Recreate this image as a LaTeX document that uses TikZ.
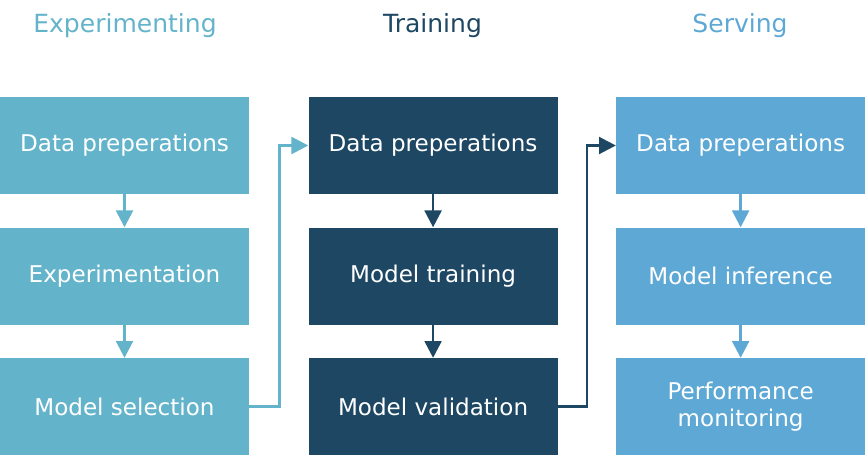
\documentclass[tikz,border=0pt]{standalone}
\usepackage{fontspec}
\setmainfont{DejaVu Sans}
\usetikzlibrary{arrows.meta, positioning}
\definecolor{cexp}{HTML}{63B4CB}
\definecolor{ctrain}{HTML}{1D4763}
\definecolor{cserve}{HTML}{5DA8D5}
\tikzset{
  stage/.style={
    fill=#1, draw=none, text=white, inner sep=0pt, align=center,
    minimum width=6.225cm, minimum height=2.425cm,
    font=\fontsize{16.4}{19.5}\selectfont
  },
  head/.style={text=#1, font=\fontsize{17.8}{22}\selectfont},
  flow/.style={draw=#1, line width=1.9pt, -{Triangle[length=4.2mm,width=4.2mm]}}
}
\begin{document}
\begin{tikzpicture}
  \useasboundingbox (0,0) rectangle (21.625,-11.4);
  % headings
  \node[head=cexp] (exphead) at (3.125,-0.65) {Experimenting};
  \node[head=ctrain] (trainhead) at (10.8125,-0.65) {Training};
  \node[head=cserve] (servehead) at (18.5,-0.65) {Serving};
  % experimenting
  \node[stage=cexp] (expdata) at (3.1125,-3.6375) {Data preperations};
  \node[stage=cexp,below=0.825cm of expdata] (expexp) {Experimentation};
  \node[stage=cexp,below=0.825cm of expexp] (expsel) {Model selection};
  % training
  \node[stage=ctrain,right=1.475cm of expdata] (traindata) {Data preperations};
  \node[stage=ctrain,below=0.825cm of traindata] (trainfit) {Model training};
  \node[stage=ctrain,below=0.825cm of trainfit] (trainval) {Model validation};
  % serving
  \node[stage=cserve,right=1.45cm of traindata] (servedata) {Data preperations};
  \node[stage=cserve,below=0.825cm of servedata] (serveinf) {Model inference};
  \node[stage=cserve,below=0.825cm of serveinf] (servemon) {Performance\\monitoring};

  \draw[flow=cexp] (expdata) -- (expexp);
  \draw[flow=cexp] (expexp) -- (expsel);
  \draw[flow=ctrain] (traindata) -- (trainfit);
  \draw[flow=ctrain] (trainfit) -- (trainval);
  \draw[flow=cserve] (servedata) -- (serveinf);
  \draw[flow=cserve] (serveinf) -- (servemon);
  \draw[flow=cexp] (expsel.east) -- ++(0.75,0) |- (traindata.west);
  \draw[flow=ctrain] (trainval.east) -- ++(0.725,0) |- (servedata.west);
\end{tikzpicture}
\end{document}
